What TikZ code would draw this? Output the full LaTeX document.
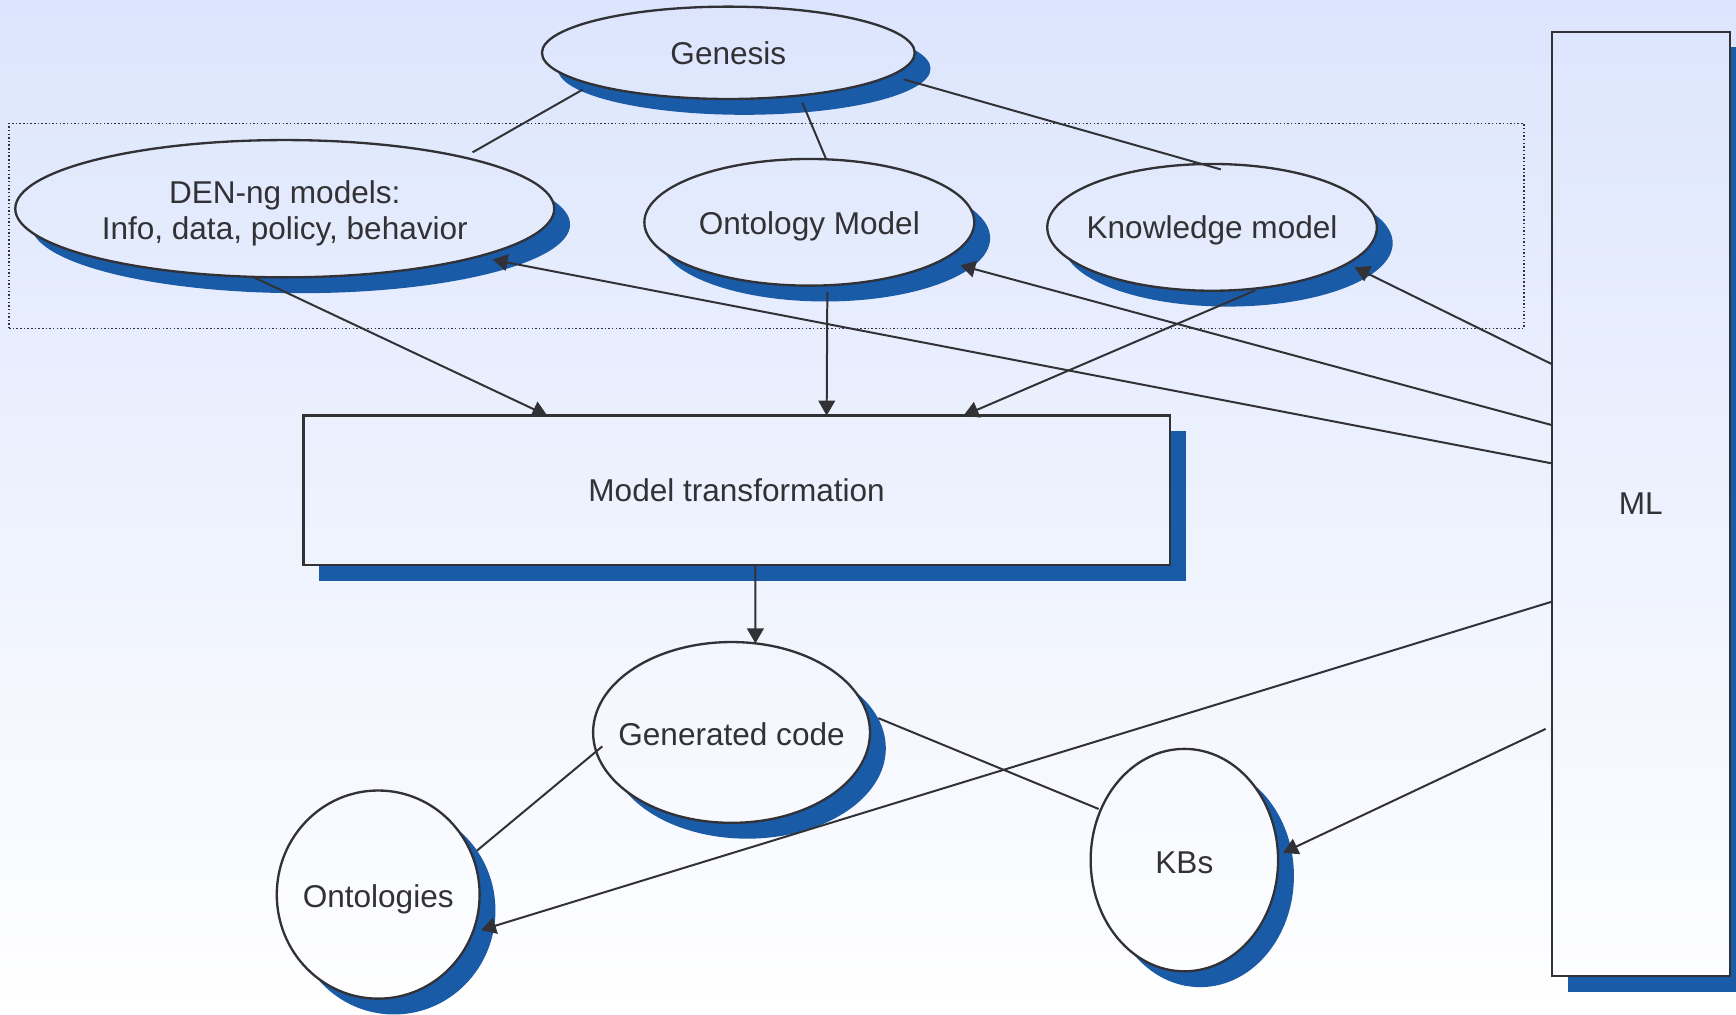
\documentclass[tikz,border=0pt]{standalone}
\usepackage{fontspec}
\setmainfont{Liberation Sans}
\usetikzlibrary{shapes.geometric,arrows.meta}
\definecolor{bgtop}{RGB}{220,229,253}
\definecolor{shblue}{RGB}{26,91,168}
\definecolor{ink}{RGB}{50,50,54}
\tikzset{
  shp/.style={draw=ink, line width=2.1pt, inner sep=0pt, outer sep=0pt},
  ell/.style={shp, ellipse},
  box/.style={shp, rectangle},
  shell/.style={ellipse, fill=shblue, draw=none, inner sep=0pt, outer sep=0pt},
  shbox/.style={rectangle, fill=shblue, draw=none, inner sep=0pt, outer sep=0pt},
  lbl/.style={text=ink, font=\fontsize{28.5}{32}\selectfont, align=center},
  grp/.style={draw=ink, dotted, line width=1.3pt, inner sep=0pt, outer sep=0pt},
  conn/.style={draw=ink, line width=1.8pt},
  arr/.style={conn, -{Triangle[length=13.5pt,width=15pt]}},
}
\begin{document}
\begin{tikzpicture}[x=1pt,y=-1pt]
\useasboundingbox (0,0) rectangle (1568,916);
\shade[top color=bgtop, bottom color=white] (0,0) rectangle (1568,916);

% grouping frame
\node[grp, minimum width=1368pt, minimum height=185.2pt] (group) at (692.3,204) {};

% shadows
\node[shell, minimum width=336.7pt, minimum height=83.4pt] (genesis-sh) at (672.15,62) {};
\node[shell, minimum width=486.8pt, minimum height=124pt] (den-sh) at (271.5,202.8) {};
\node[shell, minimum width=298pt, minimum height=114.4pt] (onto-sh) at (745.3,215.1) {};
\node[shell, minimum width=297.7pt, minimum height=114.5pt] (know-sh) at (1109.05,219.65) {};
\node[shbox, minimum width=782.3pt, minimum height=135.1pt] (mt-sh) at (679.65,457.25) {};
\node[shbox, minimum width=161pt, minimum height=853pt] (ml-sh) at (1496.3,469.4) {};
\node[shell, minimum width=250.1pt, minimum height=163.3pt] (gc-sh) at (675.05,675.85) {};
\node[shell, minimum width=183.2pt, minimum height=188pt] (ontologies-sh) at (355.9,822.3) {};
\node[shell, minimum width=169.3pt, minimum height=200.9pt] (kbs-sh) at (1084.05,791.15) {};

% shapes
\node[ell, minimum width=336.7pt, minimum height=83.4pt,
      top color=bgtop!99!white, bottom color=bgtop!90!white,
      label={[lbl,name=genesis-t]center:Genesis}] (genesis) at (657.85,47.7) {};
\node[ell, minimum width=486.8pt, minimum height=124pt,
      top color=bgtop!86!white, bottom color=bgtop!73!white,
      label={[lbl,name=den-t,yshift=-4pt]center:{DEN-ng models:\\Info, data, policy, behavior}}] (den) at (257.2,188.5) {};
\node[ell, minimum width=298pt, minimum height=114.4pt,
      top color=bgtop!84!white, bottom color=bgtop!72!white,
      label={[lbl,name=onto-t,yshift=-3.5pt]center:Ontology Model}] (onto) at (731,200.8) {};
\node[ell, minimum width=297.7pt, minimum height=114.5pt,
      top color=bgtop!84!white, bottom color=bgtop!71!white,
      label={[lbl,name=know-t,yshift=-3pt]center:Knowledge model}] (know) at (1094.75,205.35) {};
\node[box, lbl, minimum width=782.3pt, minimum height=135.1pt,
      top color=bgtop!59!white, bottom color=bgtop!44!white] (mt) at (665.35,442.95) {\raisebox{-1pt}{Model transformation}};
\node[box, lbl, minimum width=161pt, minimum height=853pt,
      top color=bgtop!97!white, bottom color=bgtop!4!white] (ml) at (1482,455.1) {\raisebox{-1.5pt}{ML}};
\node[ell, minimum width=250.1pt, minimum height=163.3pt,
      top color=bgtop!37!white, bottom color=bgtop!19!white,
      label={[lbl,name=gc-t,yshift=-2pt]center:Generated code}] (gc) at (660.75,661.55) {};
\node[ell, minimum width=183.2pt, minimum height=188pt,
      top color=bgtop!22!white, bottom color=bgtop!2!white,
      label={[lbl,name=ontologies-t,yshift=-4pt]center:Ontologies}] (ontologies) at (341.6,808) {};
\node[ell, minimum width=169.3pt, minimum height=200.9pt,
      top color=bgtop!26!white, bottom color=bgtop!4!white,
      label={[lbl,name=kbs-t,yshift=-2pt]center:KBs}] (kbs) at (1069.75,776.85) {};

% plain links
\draw[conn, shorten <=9.5pt, shorten >=9.2pt] (genesis.193.3) -- (den.16.7);
\draw[conn, shorten <=7pt] (genesis.-31.9) -- (onto.75);
\draw[conn, shorten <=12.3pt, shorten >=-17.6pt] (genesis.-8.2) -- (know.99.7);
\draw[conn, shorten <=-7.2pt, shorten >=5.9pt] (gc.188.7) -- (ontologies.23.9);
\draw[conn, shorten <=11.2pt, shorten >=2.1pt] (gc.8.23) -- (kbs.149.3);

% arrows into model transformation
\draw[arr] (den.245.9) -- ([xshift=-171pt]mt.north);
\draw[arr, shorten <=6pt] (onto.-74.6) -- ([xshift=81.3pt]mt.north);
\draw[arr, shorten <=5.6pt] (know.-51.2) -- ([xshift=204.9pt]mt.north);
\draw[arr] ([xshift=17pt]mt.south) -- (gc.75);

% arrows from ML
\draw[arr, shorten >=14pt] ([yshift=36.6pt]ml.west) -- (den.-14.25);
\draw[arr, shorten >=17.6pt] ([yshift=71.2pt]ml.west) -- (onto.-16.6);
\draw[arr, shorten >=7.4pt] ([yshift=126.3pt]ml.west) -- (know.-15.56);
\draw[arr, shorten >=8pt] ([yshift=-88.4pt]ml.west) -- (ontologies.-22);
\draw[arr, shorten <=6pt, shorten >=5pt] ([yshift=-200.7pt]ml.west) -- (kbs.3.4);
\end{tikzpicture}
\end{document}
